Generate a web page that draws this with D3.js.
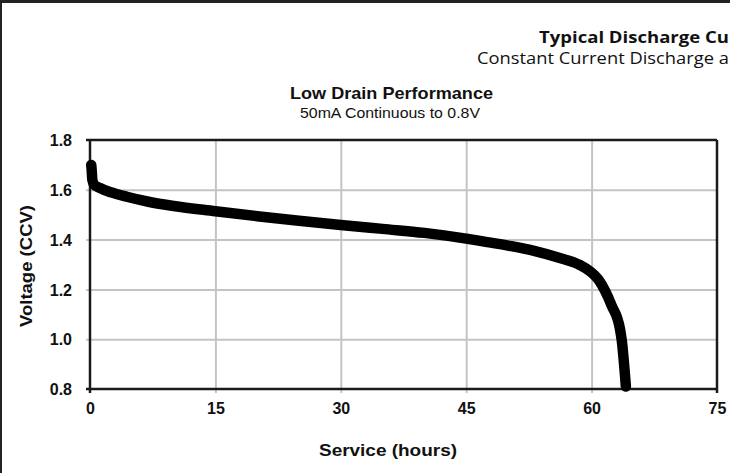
<!DOCTYPE html>
<html><head><meta charset="utf-8">
<script src="https://cdn.jsdelivr.net/npm/d3@7"></script>
<style>
html,body{margin:0;padding:0;background:#fff;overflow:hidden;}
svg{display:block;}
</style></head>
<body>
<svg id="chart" width="730" height="473"></svg>
<script>
// Data
const hours   = [0.15, 0.2, 0.28, 0.5, 1.2, 2.5, 4.4, 7, 10, 15, 20, 25, 30, 35, 40, 45, 47, 50, 53, 56, 58.6, 59.8, 60.8, 61.6, 62.4, 63.4, 63.6, 64.1];
const voltage = [1.70, 1.68, 1.64, 1.62, 1.607, 1.59, 1.572, 1.552, 1.535, 1.514, 1.494, 1.476, 1.459, 1.443, 1.427, 1.404, 1.393, 1.376, 1.356, 1.328, 1.298, 1.273, 1.24, 1.195, 1.135, 1.04, 0.997, 0.81];
const xTicks = [0, 15, 30, 45, 60, 75];
const yTicks = [0.8, 1.0, 1.2, 1.4, 1.6, 1.8];
// header texts as far as they are visible in the reference (cut by the page edge)
const title = "Typical Discharge Cu";
const subtitle = "Constant Current Discharge a";
const chartTitle = "Low Drain Performance";
const chartSubtitle = "50mA Continuous to 0.8V";
const xLabel = "Service  (hours)";
const yLabel = "Voltage (CCV)";

const svg = d3.select("#chart");
const W = 730, H = 473;
const m = {left: 90, right: 730 - 717, top: 140, bottom: 473 - 389};

const x = d3.scaleLinear().domain([0, 75]).range([m.left, W - m.right]);
const y = d3.scaleLinear().domain([0.8, 1.8]).range([H - m.bottom, m.top]);

// page border (top and left)
svg.append("line").attr("x1", 0).attr("x2", W).attr("y1", 1.5).attr("y2", 1.5)
  .attr("stroke", "#222").attr("stroke-width", 3);
svg.append("line").attr("x1", 1).attr("x2", 1).attr("y1", 0).attr("y2", H)
  .attr("stroke", "#222").attr("stroke-width", 2);

// header titles
svg.append("text").attr("x", 539).attr("y", 42.5)
  .attr("font-family", "'Open Sans', sans-serif").attr("font-weight", "bold")
  .attr("font-size", 15.5).attr("textLength", 190).attr("lengthAdjust", "spacingAndGlyphs")
  .attr("fill", "#111").text(title);
svg.append("text").attr("x", 477).attr("y", 63.5)
  .attr("font-family", "'Open Sans', sans-serif")
  .attr("font-size", 15.5).attr("textLength", 252).attr("lengthAdjust", "spacingAndGlyphs")
  .attr("fill", "#111").text(subtitle);

// chart title
svg.append("text").attr("x", 290).attr("y", 99)
  .attr("font-family", "'Liberation Sans', Arial, sans-serif").attr("font-weight", "bold")
  .attr("font-size", 17).attr("textLength", 203).attr("lengthAdjust", "spacingAndGlyphs")
  .attr("fill", "#111").text(chartTitle);
svg.append("text").attr("x", 300).attr("y", 117.5)
  .attr("font-family", "'Liberation Sans', Arial, sans-serif")
  .attr("font-size", 15.5).attr("textLength", 180).attr("lengthAdjust", "spacingAndGlyphs")
  .attr("fill", "#111").text(chartSubtitle);

// gridlines
const gridX = d3.axisBottom(x).tickValues(xTicks.slice(1, -1)).tickSize(-(y(0.8) - y(1.8)) - 4).tickFormat("");
svg.append("g").attr("transform", `translate(0,${y(0.8) + 4})`).call(gridX)
  .call(g => g.select(".domain").remove())
  .call(g => g.selectAll("line").attr("stroke", "#c4c4c4").attr("stroke-width", 2));
const gridY = d3.axisLeft(y).tickValues(yTicks.slice(1, -1)).tickSize(-(x(75) - x(0)) - 4).tickFormat("");
svg.append("g").attr("transform", `translate(${x(0) - 4},0)`).call(gridY)
  .call(g => g.select(".domain").remove())
  .call(g => g.selectAll("line").attr("stroke", "#c4c4c4").attr("stroke-width", 2));

// frame
const frame = svg.append("g").attr("stroke", "#1a1a1a").attr("stroke-width", 2.5);
frame.append("line").attr("x1", x(0) - 4).attr("x2", x(75)).attr("y1", y(1.8)).attr("y2", y(1.8));
frame.append("line").attr("x1", x(0) - 4).attr("x2", x(75)).attr("y1", y(0.8)).attr("y2", y(0.8));
frame.append("line").attr("x1", x(0)).attr("x2", x(0)).attr("y1", y(1.8)).attr("y2", y(0.8) + 4);
frame.append("line").attr("x1", x(75)).attr("x2", x(75)).attr("y1", y(1.8)).attr("y2", y(0.8) + 4);

// tick labels via axes
const yAxis = d3.axisLeft(y).tickValues(yTicks).tickFormat(d3.format(".1f")).tickSize(0).tickPadding(18);
svg.append("g").attr("transform", `translate(${x(0)},0)`).call(yAxis)
  .call(g => g.select(".domain").remove())
  .call(g => g.selectAll("text").attr("font-family", "'Liberation Sans', Arial, sans-serif")
    .attr("font-weight", "bold").attr("font-size", 16).attr("fill", "#111").attr("dy", "0.36em"));
const xAxis = d3.axisBottom(x).tickValues(xTicks).tickFormat(d3.format("d")).tickSize(0).tickPadding(14);
svg.append("g").attr("transform", `translate(0,${y(0.8)})`).call(xAxis)
  .call(g => g.select(".domain").remove())
  .call(g => g.selectAll("text").attr("font-family", "'Liberation Sans', Arial, sans-serif")
    .attr("font-weight", "bold").attr("font-size", 16).attr("fill", "#111"));

// axis titles
svg.append("text").attr("x", 388).attr("y", 456).attr("text-anchor", "middle")
  .attr("font-family", "'Liberation Sans', Arial, sans-serif").attr("font-weight", "bold")
  .attr("font-size", 16).attr("textLength", 138).attr("lengthAdjust", "spacingAndGlyphs")
  .attr("fill", "#111").text(xLabel);
svg.append("text").attr("transform", `translate(32,266) rotate(-90)`).attr("text-anchor", "middle")
  .attr("font-family", "'Liberation Sans', Arial, sans-serif").attr("font-weight", "bold")
  .attr("font-size", 16.5).attr("textLength", 122).attr("lengthAdjust", "spacingAndGlyphs")
  .attr("fill", "#111").text(yLabel);

// discharge curve
const pts = hours.map((h, i) => [h, voltage[i]]);
const line = d3.line().x(d => x(d[0])).y(d => y(d[1])).curve(d3.curveMonotoneX);
svg.append("path").datum(pts).attr("d", line)
  .attr("fill", "none").attr("stroke", "#000").attr("stroke-width", 10.5)
  .attr("stroke-linecap", "round").attr("stroke-linejoin", "round");
</script>
</body></html>
